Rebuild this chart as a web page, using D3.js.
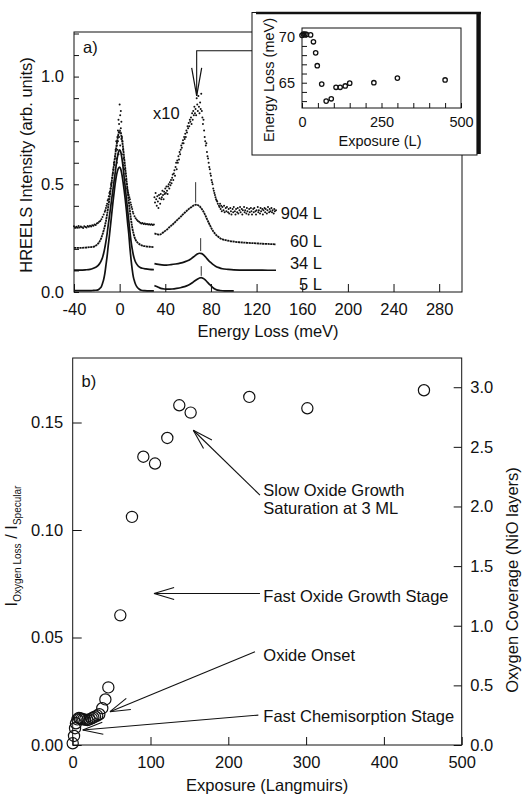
<!DOCTYPE html>
<html><head><meta charset="utf-8">
<script src="https://cdn.jsdelivr.net/npm/d3@7"></script>
<style>
body{margin:0;background:#fff}
svg{display:block}
text{font-family:"Liberation Sans",Arial,sans-serif;fill:#111}
</style>
</head><body>
<svg id="c" width="523" height="794"></svg>
<script>
// ---------------- DATA ----------------
// Panel a) HREELS spectra: [energy loss (meV), intensity (arb. units, incl. offset)]
const el5 = [[-40,0.006],[-34,0.006],[-28,0.006],[-24,0.007],[-21,0.008],[-19,0.01],[-17.5,0.016],[-16,0.025],[-15,0.04],[-14,0.058],[-13,0.085],[-12,0.125],[-11,0.165],[-10,0.215],[-9,0.26],[-8,0.31],[-7,0.36],[-6,0.41],[-5,0.455],[-4,0.5],[-3,0.535],[-2,0.56],[-1,0.575],[0,0.58],[1,0.57],[2,0.545],[3,0.51],[4,0.47],[5,0.425],[6,0.375],[7,0.32],[8,0.27],[9,0.205],[10,0.15],[11,0.105],[12,0.07],[13,0.05],[14,0.035],[15,0.025],[17,0.014],[19,0.008],[22,0.006],[26,0.005],[30,0.005]];
const loss5 = [[30.5,0.03],[33,0.024],[36,0.017],[39,0.014],[42,0.013],[46,0.014],[50,0.017],[54,0.021],[57,0.025],[60,0.031],[62,0.037],[64,0.044],[66,0.052],[68,0.059],[70,0.065],[71.5,0.067],[73,0.064],[75,0.056],[77,0.045],[79,0.034],[81,0.024],[83,0.015],[85,0.01],[88,0.007],[92,0.005],[96,0.005],[100,0.005]];
const el34 = [[-40,0.102],[-35,0.102],[-30,0.103],[-26,0.105],[-23,0.11],[-21,0.115],[-19,0.122],[-17.5,0.132],[-16,0.147],[-15,0.16],[-14,0.18],[-13,0.205],[-12,0.235],[-11,0.27],[-10,0.31],[-9,0.35],[-8,0.39],[-7,0.43],[-6,0.47],[-5,0.51],[-4,0.55],[-3,0.59],[-2,0.625],[-1,0.65],[0,0.66],[1,0.65],[2,0.62],[3,0.58],[4,0.53],[5,0.48],[6,0.43],[7,0.38],[8,0.33],[9,0.28],[10,0.235],[11,0.2],[12,0.172],[13,0.152],[14,0.138],[16,0.122],[18,0.114],[20,0.11],[23,0.107],[26,0.105],[30,0.104]];
const loss34 = [[30.5,0.132],[34,0.128],[37,0.126],[41,0.125],[45,0.127],[49,0.13],[53,0.134],[57,0.14],[60,0.146],[62,0.152],[64,0.16],[66,0.168],[68,0.176],[70,0.18],[72,0.178],[74,0.17],[76,0.158],[78,0.146],[80,0.136],[82,0.127],[84,0.12],[87,0.113],[90,0.108],[95,0.105],[100,0.103],[110,0.102],[120,0.102],[130,0.101],[137,0.101]];
const el60 = [[-40,0.205],[-35,0.205],[-30,0.206],[-26,0.208],[-23,0.21],[-21,0.215],[-19,0.224],[-17.5,0.235],[-16,0.252],[-15,0.268],[-14,0.285],[-13,0.305],[-12,0.33],[-11,0.36],[-10,0.395],[-9,0.43],[-8,0.47],[-7,0.51],[-6,0.55],[-5,0.59],[-4,0.63],[-3,0.67],[-2,0.705],[-1,0.735],[0,0.75],[1,0.74],[2,0.71],[3,0.67],[4,0.62],[5,0.57],[6,0.52],[7,0.47],[8,0.42],[9,0.375],[10,0.335],[11,0.3],[12,0.275],[13,0.255],[14,0.242],[16,0.228],[18,0.22],[20,0.215],[23,0.212],[26,0.21],[30,0.208]];
const loss60 = [[30.5,0.272],[33,0.268],[35,0.266],[37,0.272],[39,0.28],[41,0.288],[43,0.298],[45,0.307],[47,0.316],[49,0.327],[51,0.337],[53,0.347],[55,0.358],[57,0.368],[59,0.378],[61,0.387],[63,0.395],[65,0.402],[66.5,0.405],[68,0.404],[70,0.398],[72,0.385],[74,0.368],[76,0.345],[78,0.322],[80,0.3],[82,0.282],[84,0.268],[86,0.258],[88,0.25],[91,0.243],[95,0.238],[100,0.234],[105,0.231],[110,0.229],[115,0.227],[120,0.226],[125,0.224],[130,0.223],[137,0.221]];
const el904 = [[-40,0.305],[-39,0.298],[-38,0.303],[-37,0.3],[-36,0.306],[-35,0.299],[-34,0.304],[-33,0.301],[-32,0.297],[-31,0.305],[-30,0.302],[-29,0.3],[-28,0.306],[-27,0.303],[-26,0.308],[-25,0.304],[-24,0.31],[-23,0.307],[-22,0.313],[-21,0.311],[-20,0.318],[-19,0.32],[-18,0.326],[-17,0.33],[-16,0.338],[-15,0.348],[-14,0.36],[-13,0.372],[-12.5,0.38],[-12,0.39],[-11.5,0.4],[-11,0.41],[-10.5,0.425],[-10,0.43],[-9.5,0.445],[-9,0.46],[-8.5,0.465],[-8,0.48],[-7.5,0.5],[-7,0.51],[-6.5,0.53],[-6,0.55],[-5.5,0.57],[-5,0.6],[-4.5,0.59],[-4,0.63],[-3.5,0.66],[-3,0.7],[-2.5,0.68],[-2,0.72],[-1.5,0.75],[-1,0.8],[-0.5,0.78],[0,0.87],[0.5,0.82],[1,0.76],[1.5,0.79],[2,0.72],[2.5,0.7],[3,0.66],[3.5,0.62],[4,0.6],[4.5,0.57],[5,0.55],[5.5,0.52],[6,0.5],[6.5,0.48],[7,0.47],[7.5,0.46],[8,0.45],[8.5,0.44],[9,0.43],[9.5,0.415],[10,0.405],[10.5,0.395],[11,0.385],[11.5,0.372],[12,0.365],[13,0.352],[14,0.342],[15,0.335],[16,0.33],[17,0.326],[18,0.322],[19,0.318],[20,0.32],[21,0.316],[22,0.318],[23,0.314],[24,0.316],[25,0.313],[26,0.315],[27,0.312],[28,0.314],[29,0.311],[30,0.313],
  [-3,0.62],[-2,0.66],[-1.5,0.7],[-1,0.64],[-0.5,0.72],[0.5,0.68],[1,0.84],[1.5,0.71],[2,0.64],[-2.5,0.6],[3,0.59],[0,0.74]];
const loss904 = [[30.5,0.44],[31,0.415],[31.5,0.46],[32,0.43],[32.5,0.4],[33,0.445],[33.5,0.42],[34,0.39],[34.5,0.45],[35,0.435],[35.5,0.41],[36,0.455],[36.5,0.43],[37,0.44],[37.5,0.47],[38,0.45],[38.5,0.43],[39,0.465],[39.5,0.455],[40,0.48],[40.5,0.46],[41,0.49],[41.5,0.47],[42,0.455],[42.5,0.49],[43,0.5],[43.5,0.48],[44,0.51],[44.5,0.495],[45,0.52],[45.5,0.505],[46,0.53],[46.5,0.545],[47,0.52],[47.5,0.55],[48,0.565],[48.5,0.54],[49,0.58],[49.5,0.6],[50,0.57],[50.5,0.61],[51,0.6],[51.5,0.63],[52,0.615],[52.5,0.65],[53,0.64],[53.5,0.66],[54,0.68],[54.5,0.67],[55,0.69],[55.5,0.705],[56,0.69],[56.5,0.72],[57,0.71],[57.5,0.735],[58,0.72],[58.5,0.75],[59,0.74],[59.5,0.77],[60,0.76],[60.5,0.785],[61,0.77],[61.5,0.8],[62,0.79],[62.5,0.81],[63,0.78],[63.5,0.83],[64,0.8],[64.5,0.84],[65,0.82],[65.5,0.86],[66,0.83],[66.5,0.85],[67,0.82],[67.5,0.9],[68,0.87],[68.5,0.84],[69,0.91],[69.5,0.86],[70,0.83],[70.5,0.88],[71,0.85],[71.5,0.92],[72,0.84],[72.5,0.81],[73,0.78],[73.5,0.8],[74,0.75],[74.5,0.72],[75,0.7],[75.5,0.68],[76,0.69],[76.5,0.65],[77,0.63],[77.5,0.62],[78,0.6],[78.5,0.58],[79,0.57],[79.5,0.55],[80,0.54],[80.5,0.52],[81,0.51],[81.5,0.5],[82,0.48],[82.5,0.47],[83,0.46],[83.5,0.45],[84,0.44],[84.5,0.43],[85,0.425],[85.5,0.42],[86,0.41],[87,0.4],[87.5,0.395],[88,0.41],[88.5,0.385],[89,0.4],[89.5,0.375],[90,0.395],[91,0.38],[91.5,0.4],[92,0.37],[93,0.39],[93.5,0.375],[94,0.395],[95,0.37],[95.5,0.385],[96,0.365],[97,0.39],[97.5,0.375],[98,0.36],[99,0.385],[99.5,0.37],[100,0.395],[101,0.375],[101.5,0.36],[102,0.385],[103,0.37],[103.5,0.39],[104,0.365],[105,0.38],[105.5,0.395],[106,0.37],[107,0.385],[107.5,0.36],[108,0.38],[109,0.395],[109.5,0.37],[110,0.38],[111,0.365],[111.5,0.39],[112,0.375],[113,0.36],[113.5,0.385],[114,0.37],[115,0.39],[115.5,0.375],[116,0.36],[117,0.385],[117.5,0.37],[118,0.39],[119,0.375],[119.5,0.36],[120,0.38],[121,0.395],[121.5,0.37],[122,0.38],[123,0.365],[123.5,0.39],[124,0.375],[125,0.385],[125.5,0.36],[126,0.38],[127,0.39],[127.5,0.37],[128,0.385],[129,0.365],[129.5,0.38],[130,0.395],[131,0.37],[131.5,0.385],[132,0.375],[133,0.39],[133.5,0.37],[134,0.38],[135,0.365],[135.5,0.385],[136,0.375],[137,0.38]];

const specLabels = ["904 L","60 L","34 L","5 L"];
const specLabelY = [0.365, 0.238, 0.133, 0.035];
// peak-position markers: [energy, from, to]
const peakMarks = [[71.5,0.075,0.12],[71,0.19,0.25],[66.6,0.415,0.51]];
const xTicksA = [-40,0,40,80,120,160,200,240,280];

// Inset: exposure (L) vs energy loss (meV)
const insetExposure = [0, 4, 9, 14, 27, 36, 43, 48, 62, 76, 92, 107, 120, 136, 150, 226, 300, 450];
const insetEnergy   = [70.15, 70.3, 70.3, 70.25, 70.2, 69.45, 68.25, 66.85, 64.85, 63.0, 63.25, 64.5, 64.5, 64.65, 64.95, 65.0, 65.5, 65.3];

// Panel b): exposure (Langmuirs) vs I_oxygen loss / I_specular
const exposure = [0, 1.7, 3, 4.2, 6, 8, 9.4, 11.5, 13.6, 16, 18.8, 21.5, 24.4, 26.5, 28.7, 31.5, 34.2, 38, 42, 45.8, 61.2, 76.2, 90.8, 105.8, 121.6, 137, 151.6, 227, 301.6, 451.5];
const ratio    = [0.0008, 0.0042, 0.0078, 0.0101, 0.0119, 0.0126, 0.0124, 0.0122, 0.0119, 0.0118, 0.0116, 0.0119, 0.0124, 0.0128, 0.0132, 0.0137, 0.0143, 0.0171, 0.0212, 0.0268, 0.0603, 0.1061, 0.1341, 0.1309, 0.1428, 0.158, 0.1546, 0.1619, 0.1566, 0.165];
const leftTicksB = [0, 0.05, 0.10, 0.15];
const rightTicksB = [0, 0.5, 1.0, 1.5, 2.0, 2.5, 3.0];
const bottomTicksB = [0, 100, 200, 300, 400, 500];
// annotations: [text lines], text anchor (exposure, ratio), arrow tail, arrow tip
const notes = [
  {lines:["Slow Oxide Growth","Saturation at 3 ML"], tx:245, ty:[0.1185,0.110], tail:[240.7,0.1162], tip:[155,0.1464]},
  {lines:["Fast Oxide Growth Stage"], tx:245, ty:[0.0692], tail:[240.7,0.0705], tip:[104.5,0.0705]},
  {lines:["Oxide Onset"], tx:245, ty:[0.0418], tail:[234.3,0.0434], tip:[47.9,0.0155]},
  {lines:["Fast Chemisorption Stage"], tx:245, ty:[0.0132], tail:[238.6,0.0139], tip:[12.9,0.007]}
];

// ---------------- DRAW ----------------
const svg = d3.select("#c");
const INK = "#111";
const FS = 16.5;

function styleAxis(g, fs){
  g.attr("font-family", null).attr("font-size", null);
  g.select(".domain").remove();
  g.selectAll(".tick line").attr("stroke", INK).attr("stroke-width", 1);
  g.selectAll(".tick text").attr("font-size", fs).attr("fill", INK);
}
function arrow(g, x1, y1, x2, y2, L, ang){
  g.append("line").attr("x1",x1).attr("y1",y1).attr("x2",x2).attr("y2",y2).attr("stroke",INK).attr("stroke-width",1.1);
  const a = Math.atan2(y1-y2, x1-x2);
  [ang,-ang].forEach(s=>{
    g.append("line").attr("x1",x2).attr("y1",y2)
      .attr("x2",x2+L*Math.cos(a+s)).attr("y2",y2+L*Math.sin(a+s))
      .attr("stroke",INK).attr("stroke-width",1.1);
  });
}

// ===== Panel a =====
const xA = d3.scaleLinear([-40,300],[74,462]);
const yA = d3.scaleLinear([0,1.207],[292,32]);
const gA = svg.append("g");

const lineA = d3.line().x(d=>xA(d[0])).y(d=>yA(d[1])).curve(d3.curveMonotoneX);
[[el5,"none",1.7],[loss5,"none",1.7],[el34,"none",1.7],[loss34,"none",1.7],[el60,"2.2,0.5",1.8],[loss60,"2.2,0.5",1.8]].forEach(s=>{
  gA.append("path").attr("d", lineA(s[0])).attr("fill","none").attr("stroke",INK)
    .attr("stroke-width",s[2]).attr("stroke-dasharray",s[1]);
});
gA.append("g").selectAll("circle").data(el904.concat(loss904)).join("circle")
  .attr("cx",d=>xA(d[0])).attr("cy",d=>yA(d[1])).attr("r",1).attr("fill",INK);

peakMarks.forEach(m=>{
  gA.append("line").attr("x1",xA(m[0])).attr("x2",xA(m[0])).attr("y1",yA(m[1])).attr("y2",yA(m[2]))
    .attr("stroke","#333").attr("stroke-width",1);
});

// axes a
const axA = gA.append("g").attr("transform","translate(0,292)")
  .call(d3.axisBottom(xA).tickValues(xTicksA).tickSizeInner(-8).tickSizeOuter(0).tickPadding(11).tickFormat(d=>String(d)));
styleAxis(axA, FS);
const yTicksA = d3.range(0,13).map(i=>i/10);
const ayA = gA.append("g").attr("transform","translate(74,0)")
  .call(d3.axisLeft(yA).tickValues(yTicksA).tickSizeInner(-5).tickSizeOuter(0).tickPadding(10)
    .tickFormat(d=>{const k=Math.round(d*10); return k%5===0 ? d3.format(".1f")(d) : "";}));
styleAxis(ayA, FS);
gA.append("rect").attr("x",74).attr("y",32).attr("width",388).attr("height",260)
  .attr("fill","none").attr("stroke",INK).attr("stroke-width",1);

specLabels.forEach((t,i)=>{
  gA.append("text").attr("x",322).attr("y",yA(specLabelY[i])).attr("dy","0.35em")
    .attr("text-anchor","end").attr("font-size",FS).text(t);
});
gA.append("text").attr("x",xA(29.2)).attr("y",yA(0.831)).attr("dy","0.35em").attr("font-size",FS).text("x10");
gA.append("text").attr("x",83).attr("y",47.5).attr("dy","0.35em").attr("font-size",FS).text("a)");
gA.append("text").attr("transform","translate(26,165) rotate(-90)").attr("text-anchor","middle")
  .attr("dy","0.35em").attr("font-size",FS).text("HREELS Intensity (arb. units)");
gA.append("text").attr("x",268).attr("y",331.5).attr("dy","0.35em").attr("text-anchor","middle")
  .attr("font-size",FS).text("Energy Loss (meV)");

// arrow from inset to 904 L peak
const arrowE = 67.5;
gA.append("polyline")
  .attr("points", `252,${yA(1.12)} ${xA(arrowE)},${yA(1.12)} ${xA(arrowE)},${yA(0.91)}`)
  .attr("fill","none").attr("stroke",INK).attr("stroke-width",1.1);
gA.append("polyline")
  .attr("points", `${xA(arrowE)-5},${yA(0.91)-28} ${xA(arrowE)},${yA(0.91)} ${xA(arrowE)+5},${yA(0.91)-28}`)
  .attr("fill","none").attr("stroke",INK).attr("stroke-width",1.2);

// ===== Inset =====
const gI = svg.append("g");
gI.append("rect").attr("x",252).attr("y",12.5).attr("width",225).attr("height",142.5)
  .attr("fill","#fff").attr("stroke",INK).attr("stroke-width",1);
gI.append("line").attr("x1",256).attr("x2",481).attr("y1",13).attr("y2",13).attr("stroke",INK).attr("stroke-width",2.6);
gI.append("line").attr("x1",478.8).attr("x2",478.8).attr("y1",12).attr("y2",154).attr("stroke",INK).attr("stroke-width",4);

const xI = d3.scaleLinear([0,500],[302,461]);
const yI = d3.scaleLinear([62.25,70.95],[108,28]);
const axI = gI.append("g").attr("transform","translate(0,108)")
  .call(d3.axisBottom(xI).tickValues(d3.range(0,501,50)).tickSizeInner(-5).tickSizeOuter(0).tickPadding(9)
    .tickFormat(d=> (d%250===0)? d : ""));
styleAxis(axI, 14.5);
const ayI = gI.append("g").attr("transform","translate(302,0)")
  .call(d3.axisLeft(yI).tickValues(d3.range(63,71)).tickSizeInner(-5).tickSizeOuter(0).tickPadding(7)
    .tickFormat(d=> (d%5===0)? d : ""));
styleAxis(ayI, 14.5);
gI.append("rect").attr("x",302).attr("y",28).attr("width",159).attr("height",80)
  .attr("fill","none").attr("stroke",INK).attr("stroke-width",1);
gI.append("g").selectAll("circle").data(insetExposure.map((e,i)=>[e,insetEnergy[i]])).join("circle")
  .attr("cx",d=>xI(d[0])).attr("cy",d=>yI(d[1])).attr("r",2.2)
  .attr("fill","none").attr("stroke",INK).attr("stroke-width",1.3);
gI.append("text").attr("x",380).attr("y",140.5).attr("dy","0.35em").attr("text-anchor","middle")
  .attr("font-size",14.5).text("Exposure (L)");
gI.append("text").attr("transform","translate(268.5,80) rotate(-90)").attr("text-anchor","middle")
  .attr("dy","0.35em").attr("font-size",14.5).text("Energy Loss (meV)");

// ===== Panel b =====
const xB = d3.scaleLinear([0,500],[72.7,461.7]);
const yB = d3.scaleLinear([0,0.18],[745,358]);
const yR = d3.scaleLinear([0,3.245],[745,358]);
const gB = svg.append("g");

const axB = gB.append("g").attr("transform","translate(0,745)")
  .call(d3.axisBottom(xB).tickValues(bottomTicksB).tickSizeInner(-8).tickSizeOuter(0).tickPadding(11));
styleAxis(axB, FS);
const ayB = gB.append("g").attr("transform","translate(72.7,0)")
  .call(d3.axisLeft(yB).tickValues(leftTicksB).tickSizeInner(-9).tickSizeOuter(0).tickPadding(9.5).tickFormat(d3.format(".2f")));
styleAxis(ayB, FS);
const ayR = gB.append("g").attr("transform","translate(461.7,0)")
  .call(d3.axisRight(yR).tickValues(rightTicksB).tickSizeInner(-8).tickSizeOuter(0).tickPadding(8.5).tickFormat(d3.format(".1f")));
styleAxis(ayR, FS);
gB.append("rect").attr("x",72.7).attr("y",358).attr("width",389).attr("height",387)
  .attr("fill","none").attr("stroke",INK).attr("stroke-width",1);

gB.append("g").selectAll("circle").data(exposure.map((e,i)=>[e,ratio[i]])).join("circle")
  .attr("cx",d=>xB(d[0])).attr("cy",d=>yB(d[1])).attr("r",5.6)
  .attr("fill","none").attr("stroke",INK).attr("stroke-width",1.2);

notes.forEach(n=>{
  n.lines.forEach((t,i)=>{
    gB.append("text").attr("x",xB(n.tx)).attr("y",yB(n.ty[i])).attr("dy","0.35em")
      .attr("font-size",FS).text(t);
  });
  arrow(gB, xB(n.tail[0]), yB(n.tail[1]), xB(n.tip[0]), yB(n.tip[1]), 21, 0.29);
});

gB.append("text").attr("x",81.5).attr("y",381.5).attr("dy","0.35em").attr("font-size",FS).text("b)");
gB.append("text").attr("x",xB(250)).attr("y",785).attr("dy","0.35em").attr("text-anchor","middle")
  .attr("font-size",FS).text("Exposure (Langmuirs)");
const tl = gB.append("text").attr("transform","translate(11.5,546) rotate(-90)").attr("text-anchor","middle")
  .attr("dy","0.35em").attr("font-size",FS);
tl.append("tspan").text("I");
tl.append("tspan").attr("font-size",10).attr("dy",4).text("Oxygen Loss");
tl.append("tspan").attr("dy",-4).text(" / I");
tl.append("tspan").attr("font-size",10).attr("dy",4).text("Specular");
gB.append("text").attr("transform","translate(512.5,580) rotate(-90)").attr("text-anchor","middle")
  .attr("dy","0.35em").attr("font-size",FS).text("Oxygen Coverage (NiO layers)");
</script>
</body></html>
